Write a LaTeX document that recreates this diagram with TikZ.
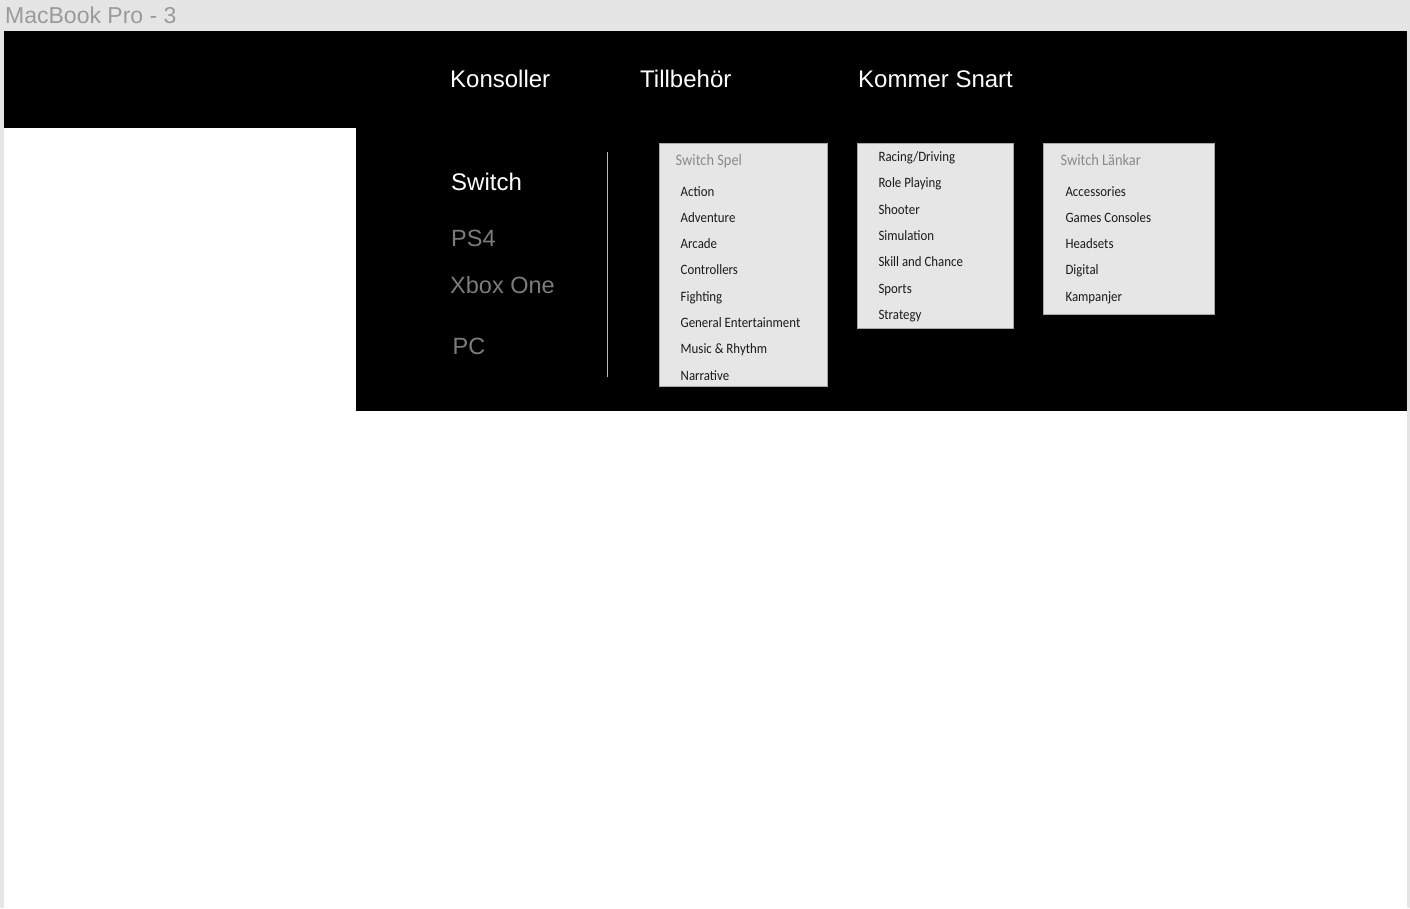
\documentclass[tikz,border=0pt]{standalone}
\usepackage{fontspec}
\setmainfont{Liberation Sans}
\newfontfamily\listfont[FakeStretch=0.9]{Carlito}
\definecolor{canvas}{HTML}{E5E5E5}
\definecolor{titlegray}{HTML}{9A9A9A}
\definecolor{sidegray}{HTML}{7C7C7C}
\definecolor{boxfill}{HTML}{E6E6E6}
\definecolor{boxline}{HTML}{A8A8A8}
\definecolor{headgray}{HTML}{8A8A8A}
\definecolor{itemtext}{HTML}{1A1A1A}
\definecolor{divline}{HTML}{BBBBBB}

\begin{document}
\begin{tikzpicture}[x = 1pt, y = -1pt]
% Node styles ---
\tikzstyle{frametitle} = [anchor = base west, inner sep = 0pt, text = titlegray, font = \fontsize{23}{27}\selectfont] % Artboard name
\tikzstyle{navtxt} = [anchor = base west, inner sep = 0pt, text = white, font = \fontsize{24}{28}\selectfont] % Top menu
\tikzstyle{sidetxt} = [anchor = base west, inner sep = 0pt, text = sidegray, font = \fontsize{23.5}{28}\selectfont] % Console list
\tikzstyle{menubox} = [rectangle, anchor = north west, draw = boxline, line width = 0.8pt, fill = boxfill, inner sep = 0pt] % Dropdown panels
\tikzstyle{menuhead} = [anchor = base west, inner sep = 0pt, text = headgray, font = \listfont\fontsize{16}{19}\selectfont] % Panel titles
\tikzstyle{menuitem} = [anchor = base west, inner sep = 0pt, text = itemtext, font = \listfont\fontsize{14.3}{17}\selectfont] % Panel entries
% Edge styles
\tikzstyle{divider} = [draw = divline, line width = 1pt] % Separator
% Begin Figure ---
\useasboundingbox (0,0) rectangle (1410,908);
% Backgrounds
\fill [canvas] (0,0) rectangle (1410,908);
\fill [white] (4,31) rectangle (1407,908);
\fill [black] (4,31) rectangle (1407,128);
\fill [black] (356,128) rectangle (1407,410.5);
% Nodes
\node at (5,23) [frametitle] (frame) {MacBook Pro - 3};
\node at (450,87) [navtxt] (konsoller) {Konsoller};
\node at (640,87) [navtxt] (tillbehor) {Tillbehör};
\node at (858,87) [navtxt] (kommer) {Kommer Snart};
\node at (451,190) [navtxt] (switch) {Switch};
\node at (451,246.5) [sidetxt] (ps4) {PS4};
\node at (450,293.5) [sidetxt] (xbox) {Xbox One};
\node at (452.5,354) [sidetxt] (pc) {PC};
\coordinate (divtop) at (607,151.5);
\coordinate (divbot) at (607,377);
% Switch Spel panel
\node at (659,142.5) [menubox, minimum width = 168, minimum height = 243] (spel) {};
\node at (675.5,165) [menuhead] (spelhead) {Switch Spel};
\node at (680.5,196) [menuitem] (action) {Action};
\node at (680.5,222.3) [menuitem] (adventure) {Adventure};
\node at (680.5,248.6) [menuitem] (arcade) {Arcade};
\node at (680.5,274.9) [menuitem] (controllers) {Controllers};
\node at (680.5,301.2) [menuitem] (fighting) {Fighting};
\node at (680.5,327.5) [menuitem] (general) {General Entertainment};
\node at (680.5,353.8) [menuitem] (music) {Music \& Rhythm};
\node at (680.5,380.1) [menuitem] (narrative) {Narrative};
% Genre panel
\node at (857,142.5) [menubox, minimum width = 156, minimum height = 185.5] (genre) {};
\node at (878.3,161.5) [menuitem] (racing) {Racing/Driving};
\node at (878.3,187.8) [menuitem] (role) {Role Playing};
\node at (878.3,214.1) [menuitem] (shooter) {Shooter};
\node at (878.3,240.4) [menuitem] (simulation) {Simulation};
\node at (878.3,266.7) [menuitem] (skill) {Skill and Chance};
\node at (878.3,293) [menuitem] (sports) {Sports};
\node at (878.3,319.3) [menuitem] (strategy) {Strategy};
% Switch Länkar panel
\node at (1043,142.5) [menubox, minimum width = 170.5, minimum height = 171.5] (lankar) {};
\node at (1060.3,165.3) [menuhead] (lankarhead) {Switch Länkar};
\node at (1065.3,196) [menuitem] (accessories) {Accessories};
\node at (1065.3,222.3) [menuitem] (consoles) {Games Consoles};
\node at (1065.3,248.6) [menuitem] (headsets) {Headsets};
\node at (1065.3,274.9) [menuitem] (digital) {Digital};
\node at (1065.3,301.2) [menuitem] (kampanjer) {Kampanjer};
% Paths
\path (divtop) edge [divider] (divbot);
\end{tikzpicture}
\end{document}
